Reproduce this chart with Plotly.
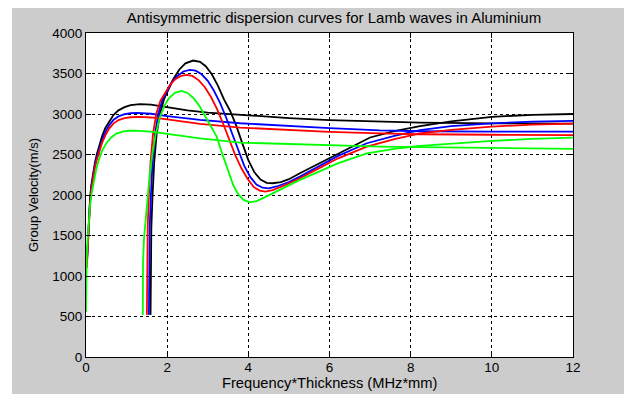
import plotly.graph_objects as go

# ---- data ----
black_a0_x = [0.02, 0.04, 0.06, 0.08, 0.1, 0.13, 0.17, 0.22, 0.27, 0.33, 0.4, 0.48, 0.57, 0.68, 0.8, 0.95, 1.1, 1.33, 1.6, 2.0, 2.5, 3.0, 3.8, 5.0, 6.0, 7.24, 8.23, 10.0, 12.0]
black_a0_y = [1150, 1380, 1620, 1820, 1960, 2120, 2270, 2400, 2510, 2620, 2730, 2830, 2910, 2990, 3045, 3085, 3110, 3122, 3115, 3085, 3045, 3018, 2990, 2950, 2925, 2906, 2893, 2885, 2880]

blue_a0_x = [0.02, 0.04, 0.06, 0.08, 0.1, 0.13, 0.17, 0.22, 0.27, 0.33, 0.4, 0.48, 0.57, 0.68, 0.8, 0.95, 1.1, 1.26, 1.6, 2.0, 2.5, 2.81, 3.8, 5.0, 6.0, 7.24, 8.23, 10.0, 12.0]
blue_a0_y = [1150, 1370, 1600, 1790, 1930, 2090, 2240, 2370, 2470, 2580, 2680, 2780, 2860, 2930, 2970, 2997, 3010, 3013, 3003, 2975, 2945, 2927, 2886, 2850, 2825, 2797, 2787, 2783, 2782]

red_a0_x = [0.02, 0.04, 0.06, 0.08, 0.1, 0.13, 0.17, 0.22, 0.27, 0.33, 0.4, 0.48, 0.57, 0.68, 0.8, 0.95, 1.1, 1.33, 1.6, 2.0, 2.5, 2.81, 3.8, 5.0, 6.0, 7.24, 8.23, 10.0, 12.0]
red_a0_y = [1100, 1340, 1570, 1760, 1900, 2060, 2210, 2340, 2440, 2550, 2650, 2740, 2820, 2885, 2925, 2950, 2960, 2964, 2957, 2933, 2900, 2877, 2832, 2800, 2780, 2762, 2750, 2744, 2740]

green_a0_x = [0.0, 0.005, 0.02, 0.04, 0.06, 0.08, 0.1, 0.14, 0.19, 0.25, 0.32, 0.4, 0.5, 0.62, 0.75, 0.9, 1.05, 1.2, 1.6, 2.2, 2.81, 3.8, 5.0, 6.0, 7.24, 8.23, 10.0, 12.0]
green_a0_y = [560, 1050, 1250, 1450, 1620, 1760, 1870, 2020, 2170, 2310, 2440, 2550, 2640, 2710, 2758, 2783, 2793, 2795, 2782, 2742, 2700, 2647, 2628, 2614, 2598, 2590, 2578, 2569]

black_a1_x = [1.59, 1.595, 1.61, 1.64, 1.68, 1.74, 1.82, 1.92, 2.03, 2.15, 2.3, 2.45, 2.64, 2.81, 2.95, 3.1, 3.25, 3.4, 3.55, 3.7, 3.85, 4.0, 4.15, 4.3, 4.45, 4.6, 4.8, 5.0, 5.27, 5.7, 6.2, 7.0, 7.6, 8.23, 9.0, 10.0, 11.0, 12.0]
black_a1_y = [520, 1200, 1600, 2000, 2400, 2750, 3000, 3180, 3300, 3430, 3550, 3625, 3660, 3645, 3590, 3490, 3350, 3180, 3040, 2860, 2640, 2430, 2280, 2190, 2150, 2145, 2160, 2195, 2268, 2380, 2510, 2710, 2790, 2850, 2910, 2965, 2990, 3000]

blue_a1_x = [1.55, 1.555, 1.57, 1.6, 1.64, 1.7, 1.78, 1.88, 2.0, 2.12, 2.25, 2.4, 2.56, 2.7, 2.85, 3.0, 3.15, 3.3, 3.45, 3.6, 3.75, 3.9, 4.05, 4.2, 4.35, 4.5, 4.7, 5.0, 5.27, 5.7, 6.2, 6.92, 7.6, 8.23, 9.0, 10.0, 11.0, 12.0]
blue_a1_y = [520, 1200, 1600, 2000, 2400, 2750, 3000, 3170, 3290, 3400, 3470, 3525, 3545, 3535, 3490, 3410, 3290, 3140, 2960, 2760, 2550, 2360, 2220, 2130, 2090, 2083, 2105, 2160, 2227, 2340, 2480, 2639, 2730, 2800, 2850, 2885, 2905, 2915]

red_a1_x = [1.50, 1.505, 1.52, 1.55, 1.59, 1.65, 1.73, 1.83, 1.95, 2.07, 2.2, 2.34, 2.48, 2.62, 2.78, 2.93, 3.08, 3.23, 3.38, 3.53, 3.68, 3.83, 3.98, 4.13, 4.28, 4.42, 4.6, 4.9, 5.27, 5.7, 6.2, 6.92, 7.6, 8.23, 9.0, 10.0, 11.0, 12.0]
red_a1_y = [520, 1200, 1600, 2000, 2400, 2750, 3000, 3160, 3260, 3360, 3430, 3470, 3483, 3470, 3415, 3330, 3210, 3060, 2880, 2680, 2490, 2330, 2200, 2100, 2055, 2042, 2060, 2120, 2207, 2320, 2450, 2597, 2690, 2760, 2805, 2845, 2868, 2880]

green_a1_x = [1.40, 1.405, 1.43, 1.47, 1.52, 1.58, 1.64, 1.72, 1.82, 1.93, 2.05, 2.2, 2.36, 2.5, 2.65, 2.8, 2.95, 3.1, 3.22, 3.35, 3.5, 3.63, 3.75, 3.88, 4.04, 4.2, 4.4, 4.7, 5.0, 5.27, 5.7, 6.2, 6.92, 7.6, 8.23, 9.0, 10.0, 11.0, 12.0]
green_a1_y = [520, 1170, 1470, 1700, 2000, 2300, 2520, 2760, 2960, 3100, 3200, 3265, 3285, 3260, 3195, 3095, 2960, 2830, 2720, 2520, 2290, 2120, 2010, 1940, 1910, 1925, 1970, 2045, 2120, 2186, 2280, 2390, 2515, 2570, 2606, 2635, 2668, 2692, 2708]

x_ticks = [0, 2, 4, 6, 8, 10, 12]
y_ticks = [0, 500, 1000, 1500, 2000, 2500, 3000, 3500, 4000]

series = [
    (black_a0_x, black_a0_y, "black"), (black_a1_x, black_a1_y, "black"),
    (blue_a0_x, blue_a0_y, "#0000ff"), (blue_a1_x, blue_a1_y, "#0000ff"),
    (red_a0_x, red_a0_y, "#ff0000"), (red_a1_x, red_a1_y, "#ff0000"),
    (green_a0_x, green_a0_y, "#00ff00"), (green_a1_x, green_a1_y, "#00ff00"),
]

fig = go.Figure()
for xs, ys, c in series:
    fig.add_trace(go.Scatter(x=xs, y=ys, mode="lines",
                             line=dict(color=c, width=1.8),
                             showlegend=False, hoverinfo="skip"))

font = "Liberation Sans, Arial, sans-serif"
axis_common = dict(
    showline=True, linecolor="black", linewidth=1, mirror="ticks",
    ticks="inside", ticklen=5, tickcolor="black",
    showgrid=True, gridcolor="black", gridwidth=1, griddash="dot",
    zeroline=False, automargin=False,
    tickfont=dict(family=font, size=13.5, color="black"),
)

# page is shown with an 8px body margin: figure origin sits at page (8, 8)
W, H = 624, 386
L, R, T, B = 78, 59, 25, 37
PW, PH = W - L - R, H - T - B

fig.update_layout(
    width=W, height=H,
    margin=dict(l=L, r=R, t=T, b=B),
    paper_bgcolor="#cccccc", plot_bgcolor="white",
    title=dict(text="Antisymmetric dispersion curves for Lamb waves in Aluminium",
               x=326 / W, xanchor="center", y=1 - 10 / H, yanchor="middle",
               font=dict(family=font, size=15, color="black")),
    xaxis=dict(range=[0, 12], tickvals=x_ticks, ticktext=[str(v) for v in x_ticks],
               ticklabelstandoff=-2, **axis_common),
    yaxis=dict(range=[0, 4000], tickvals=y_ticks, ticktext=[str(v) for v in y_ticks],
               **axis_common),
    annotations=[
        dict(text="Frequency*Thickness (MHz*mm)", xref="paper", yref="paper",
             x=0.5, y=-26 / PH, xanchor="center", yanchor="middle", showarrow=False,
             font=dict(family=font, size=14.7, color="black")),
        dict(text="Group Velocity(m/s)", xref="paper", yref="paper",
             x=-53 / PW, y=0.5, xanchor="center", yanchor="middle", showarrow=False,
             textangle=-90, font=dict(family=font, size=13, color="black")),
    ],
    shapes=[
        dict(type="rect", xref="paper", yref="paper",
             x0=-L / PW - 0.01, x1=(4 - L) / PW, y0=-B / PH - 0.02, y1=1 + T / PH + 0.02,
             fillcolor="white", line=dict(width=0), layer="above"),
    ],
)

fig.write_html("out.html")
